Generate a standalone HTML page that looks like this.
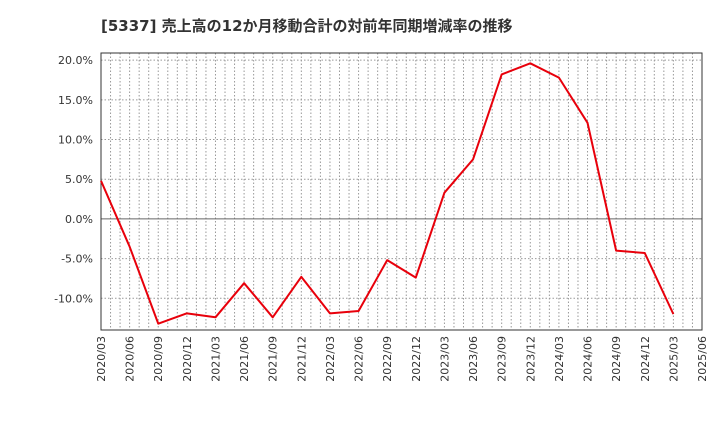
<!DOCTYPE html>
<html><head><meta charset="utf-8"><style>
body{margin:0;background:#fff;font-family:"DejaVu Sans","Noto Sans CJK JP",sans-serif;}
</style></head><body>
<svg id="chart" width="720" height="440" xmlns="http://www.w3.org/2000/svg" font-family="DejaVu Sans, Noto Sans CJK JP, sans-serif">
<text x="101" y="31" font-size="15" font-weight="bold" fill="#333">[5337]  売上高の12か月移動合計の対前年同期増減率の推移</text>
<g id="grid"></g><g id="axes"></g><g id="series"></g>
</svg>
<script>
const categories=["2020/03","2020/06","2020/09","2020/12","2021/03","2021/06","2021/09","2021/12","2022/03","2022/06","2022/09","2022/12","2023/03","2023/06","2023/09","2023/12","2024/03","2024/06","2024/09","2024/12","2025/03","2025/06"];
const values=[4.8,-3.5,-13.2,-11.9,-12.4,-8.1,-12.4,-7.3,-11.9,-11.6,-5.2,-7.4,3.3,7.5,18.2,19.6,17.8,12.1,-4.0,-4.3,-12.0];
const yTicks=[20,15,10,5,0,-5,-10];
const NS="http://www.w3.org/2000/svg";
const L=101,R=702,T=53,B=330,yMax=20.9,yMin=-14.0;
const x=i=>L+(R-L)*i/(categories.length-1);
const y=v=>T+(yMax-v)/(yMax-yMin)*(B-T);
function mk(tag,attrs,parent){const e=document.createElementNS(NS,tag);for(const k in attrs)e.setAttribute(k,attrs[k]);parent.appendChild(e);return e;}
const grid=document.getElementById('grid'),axes=document.getElementById('axes'),ser=document.getElementById('series');
for(let m=1;m<(categories.length-1)*3;m++){const xx=L+(R-L)*m/((categories.length-1)*3);
const g=mk('line',{x1:xx,x2:xx,y1:T,y2:B,stroke:'#999','stroke-dasharray':'1.5,2','stroke-width':1},grid);

}
yTicks.forEach(t=>{const yy=y(t);
const g=mk('line',{x1:L,x2:R,y1:yy,y2:yy,stroke:t===0?'#666':'#999','stroke-dasharray':t===0?'none':'1.5,2','stroke-width':1},grid);


const tx=mk('text',{x:L-8,y:yy+4,'text-anchor':'end','font-size':11,fill:'#333'},axes);
tx.textContent=t.toFixed(1)+'%';

});
const frame=mk('rect',{x:L,y:T,width:R-L,height:B-T,fill:'none',stroke:'#333','stroke-width':1},axes);


categories.forEach((c,i)=>{const xx=x(i);
const tx=mk('text',{x:xx+4,y:B+6,'text-anchor':'end','font-size':11,fill:'#333',transform:`rotate(-90 ${xx+4} ${B+6})`},axes);
tx.textContent=c;

});
const pts=values.map((v,i)=>x(i)+','+y(v)).join(' ');
const pl=mk('polyline',{points:pts,fill:'none',stroke:'#e8000b','stroke-width':2,'stroke-linejoin':'round'},ser);


</script>
</body></html>
